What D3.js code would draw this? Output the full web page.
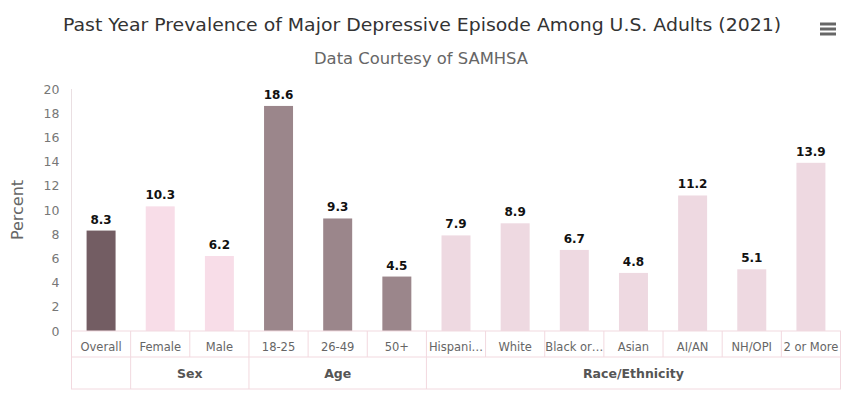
<!DOCTYPE html>
<html>
<head>
<meta charset="utf-8">
<script src="https://cdn.jsdelivr.net/npm/d3@7"></script>
<style>
  body { margin: 0; background: #fff; }
  svg { display: block; }
</style>
</head>
<body>
<script>
// data (labels as shown, truncated ones included)
var categories = ['Overall', 'Female', 'Male', '18-25', '26-49', '50+', 'Hispani…', 'White', 'Black or…', 'Asian', 'AI/AN', 'NH/OPI', '2 or More'];
var values = [8.3, 10.3, 6.2, 18.6, 9.3, 4.5, 7.9, 8.9, 6.7, 4.8, 11.2, 5.1, 13.9];
var groups = ['', 'Sex', 'Sex', 'Age', 'Age', 'Age', 'Race/Ethnicity', 'Race/Ethnicity', 'Race/Ethnicity', 'Race/Ethnicity', 'Race/Ethnicity', 'Race/Ethnicity', 'Race/Ethnicity'];
var yTicks = [0, 2, 4, 6, 8, 10, 12, 14, 16, 18, 20];

var group_colors = { '': '#735d63', 'Sex': '#f8dde8', 'Age': '#9b868b', 'Race/Ethnicity': '#eed9e1' };

var width = 868, height = 397;
var left = 71.5, right = 840.5, top_y = 89, base_y = 331;
var row1 = 357, row2 = 389;
var font = "'DejaVu Sans', Verdana, sans-serif";

var svg = d3.select('body').append('svg').attr('width', width).attr('height', height);

var x = d3.scaleBand().domain(categories).range([left, right]).paddingInner(0).paddingOuter(0);
var y = d3.scaleLinear().domain([0, 20]).range([base_y, top_y]);

// title and subtitle
svg.append('text').attr('x', 422).attr('y', 31).attr('text-anchor', 'middle')
  .attr('font-family', font).attr('font-size', 18).attr('fill', '#333')
  .attr('textLength', 718).attr('lengthAdjust', 'spacingAndGlyphs')
  .text('Past Year Prevalence of Major Depressive Episode Among U.S. Adults (2021)');
svg.append('text').attr('x', 421).attr('y', 64).attr('text-anchor', 'middle')
  .attr('font-family', font).attr('font-size', 15).attr('fill', '#666')
  .attr('textLength', 214).attr('lengthAdjust', 'spacingAndGlyphs')
  .text('Data Courtesy of SAMHSA');

// menu icon
[0, 5, 10].forEach(function(d) {
  svg.append('line').attr('x1', 820).attr('x2', 836).attr('y1', 24 + d).attr('y2', 24 + d)
    .attr('stroke', '#666').attr('stroke-width', 3);
});

// y axis labels
var yAxis = d3.axisLeft(y).tickValues(yTicks).tickSize(0).tickPadding(12);
var yg = svg.append('g').attr('transform', 'translate(' + left + ',0)').call(yAxis);
yg.select('.domain').remove();
yg.selectAll('text').attr('font-family', font).attr('font-size', 12.5).attr('fill', '#777');
svg.append('line').attr('x1', left).attr('x2', left).attr('y1', top_y).attr('y2', base_y)
  .attr('stroke', '#eadfe2').attr('stroke-width', 1);

svg.append('text').attr('transform', 'translate(23,' + 210 + ') rotate(-90)')
  .attr('text-anchor', 'middle').attr('font-family', font).attr('font-size', 16).attr('fill', '#666')
  .text('Percent');

// bars
var bw = x.bandwidth() * 0.49;
svg.append('g').selectAll('rect').data(categories).join('rect')
  .attr('x', function(d) { return x(d) + (x.bandwidth() - bw) / 2; })
  .attr('y', function(d, i) { return y(values[i]); })
  .attr('width', bw)
  .attr('height', function(d, i) { return y(0) - y(values[i]); })
  .attr('fill', function(d, i) { return group_colors[groups[i]]; });

svg.append('g').selectAll('text').data(categories).join('text')
  .attr('x', function(d) { return x(d) + x.bandwidth() / 2; })
  .attr('y', function(d, i) { return y(values[i]) - 7; })
  .attr('text-anchor', 'middle').attr('font-family', font).attr('font-size', 12)
  .attr('font-weight', 'bold').attr('fill', '#111')
  .text(function(d, i) { return values[i].toFixed(1); });

// grouped category axis
var gridColor = '#f2d9df';
var ax = svg.append('g');
ax.append('rect').attr('x', left).attr('y', base_y).attr('width', right - left).attr('height', row2 - base_y)
  .attr('fill', 'none').attr('stroke', gridColor);
ax.append('line').attr('x1', left).attr('x2', right).attr('y1', row1).attr('y2', row1).attr('stroke', gridColor);

categories.forEach(function(c, i) {
  if (i > 0) {
    var full = groups[i] !== groups[i - 1];
    ax.append('line').attr('x1', x(c)).attr('x2', x(c)).attr('y1', base_y).attr('y2', full ? row2 : row1)
      .attr('stroke', gridColor);
  }
  ax.append('text').attr('x', x(c) + x.bandwidth() / 2).attr('y', 351)
    .attr('text-anchor', 'middle').attr('font-family', font).attr('font-size', 11.5).attr('fill', '#666')
    .text(c);
});

var groupNames = Array.from(new Set(groups));
groupNames.forEach(function(g) {
  if (!g) return;
  var idx = categories.filter(function(c, i) { return groups[i] === g; });
  var x0 = x(idx[0]), x1 = x(idx[idx.length - 1]) + x.bandwidth();
  ax.append('text').attr('x', (x0 + x1) / 2).attr('y', 378).attr('text-anchor', 'middle')
    .attr('font-family', font).attr('font-size', 12.5).attr('font-weight', 'bold').attr('fill', '#555')
    .text(g);
});
</script>
</body>
</html>
